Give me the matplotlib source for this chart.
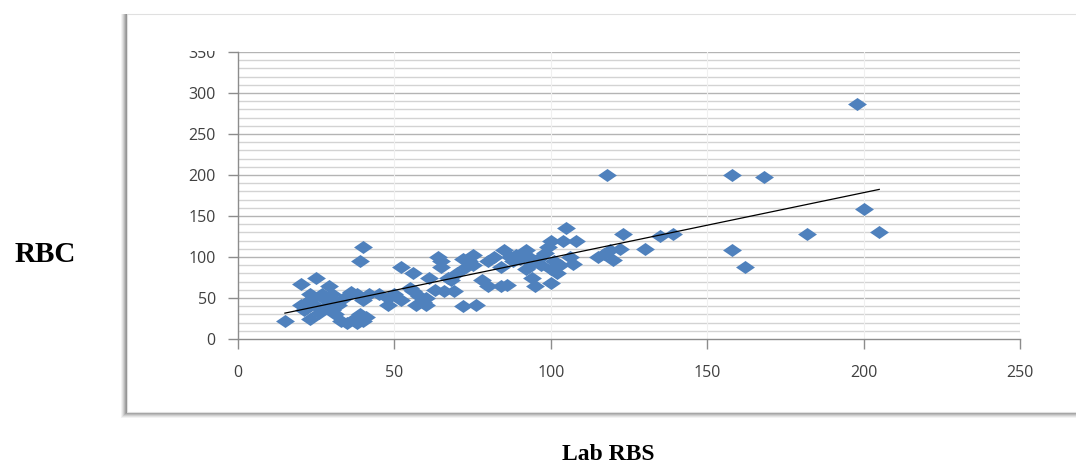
import numpy as np
import matplotlib
matplotlib.use("Agg")
import matplotlib.pyplot as plt
from matplotlib.patches import Rectangle
from matplotlib.path import Path

lab_rbs = [15, 20, 20, 21, 22, 23, 23, 24, 25, 25, 26, 27, 28, 28, 29, 30, 30, 30, 31, 32,
           33, 34, 35, 36, 37, 38, 38, 39, 39, 40, 40, 40, 41, 42, 45, 48, 48, 50, 52, 52,
           55, 56, 56, 57, 58, 59, 60, 60, 61, 63, 64, 65, 65, 66, 67, 68, 69, 70, 72, 72,
           73, 74, 75, 75, 76, 78, 80, 80, 82, 84, 84, 85, 86, 87, 88, 89, 90, 92, 92, 93,
           94, 94, 95, 96, 97, 98, 99, 100, 100, 100, 101, 102, 103, 104, 105, 106, 107, 108,
           115, 117, 118, 119, 120, 122, 123, 130, 135, 139, 158, 158, 162, 168, 182, 198,
           200, 205]
rbc = [22, 67, 42, 35, 45, 55, 25, 50, 75, 40, 32, 55, 48, 38, 65, 55, 45, 35, 30, 42,
       22, 50, 20, 57, 25, 55, 20, 95, 30, 112, 48, 22, 27, 55, 55, 50, 42, 55, 88, 48,
       62, 58, 80, 42, 52, 45, 42, 50, 75, 60, 100, 88, 95, 58, 75, 72, 58, 80, 98, 40,
       88, 95, 102, 90, 42, 72, 65, 95, 100, 88, 65, 108, 66, 100, 95, 102, 98, 85, 108, 100,
       92, 75, 65, 98, 90, 105, 112, 120, 68, 85, 95, 80, 90, 120, 135, 100, 92, 120,
       100, 104, 200, 108, 96, 110, 128, 110, 125, 128, 200, 108, 88, 198, 128, 287,
       158, 130]

x_ticks = [0, 50, 100, 150, 200, 250]
y_ticks = [0, 50, 100, 150, 200, 250, 300, 350]

W, H = 1076, 468
fig = plt.figure(figsize=(W / 100, H / 100), dpi=100)
fig.patch.set_facecolor("white")

def px_rect(x0, y0, x1, y1, **kw):
    return Rectangle((x0 / W, 1 - y1 / H), (x1 - x0) / W, (y1 - y0) / H,
                     transform=fig.transFigure, **kw)

for off, a in [(6, 0.08), (5, 0.12), (4, 0.16), (3, 0.22), (2, 0.3), (1, 0.35)]:
    fig.add_artist(px_rect(127 - off, 14, 1090, 412 + off, facecolor="#707070",
                           edgecolor="none", alpha=a, zorder=-3))
fig.add_artist(px_rect(127, 14, 1090, 412, facecolor="white", edgecolor="#E0E0E0",
                       lw=0.8, zorder=-2))

ax = fig.add_axes([238 / W, 1 - 339 / H, (1020 - 238) / W, (339 - 52) / H])
ax.set_facecolor("none")
ax.set_xlim(0, 250)
ax.set_ylim(0, 350)

for v in np.arange(10, 351, 10):
    major = (v % 50 == 0)
    ax.axhline(v, color="#B4B4B4" if major else "#D3D3D3", lw=1.0, zorder=0)
for v in x_ticks[1:]:
    ax.axvline(v, color="#F0F0F0", lw=0.8, zorder=0)

diamond = Path([(0, 1), (1.45, 0), (0, -1), (-1.45, 0), (0, 1)],
               [Path.MOVETO, Path.LINETO, Path.LINETO, Path.LINETO, Path.CLOSEPOLY])
ax.scatter(lab_rbs, rbc, marker=diamond, s=185, color="#4F81BD", linewidths=0, zorder=3)

xs = np.array(lab_rbs, float)
ys = np.array(rbc, float)
m, b = np.polyfit(xs, ys, 1)
xl = np.array([xs.min(), xs.max()])
ax.plot(xl, m * xl + b, color="black", lw=0.9, zorder=4)

for s in ["top", "right"]:
    ax.spines[s].set_visible(False)
for s in ["left", "bottom"]:
    ax.spines[s].set_color("#8C8C8C")
    ax.spines[s].set_linewidth(1.0)

ax.set_xticks(x_ticks)
ax.set_yticks(y_ticks)
ax.tick_params(axis="both", direction="out", length=7, color="#8C8C8C", width=1,
               labelsize=11.5, labelcolor="#404040")
ax.tick_params(axis="x", pad=12)
ax.tick_params(axis="y", pad=9)
for lbl in ax.get_xticklabels() + ax.get_yticklabels():
    lbl.set_fontfamily("Open Sans")

fig.add_artist(px_rect(140, 20, 236, 51, facecolor="white", edgecolor="none", zorder=10))

fig.text(45 / W, 1 - 255 / H, "RBC", fontsize=21, fontweight="bold",
         family="Liberation Serif", ha="center", va="center")
fig.text(608 / W, 1 - 455 / H, "Lab RBS", fontsize=17, fontweight="bold",
         family="Liberation Serif", ha="center", va="center")

fig.savefig("out.png", dpi=100)
